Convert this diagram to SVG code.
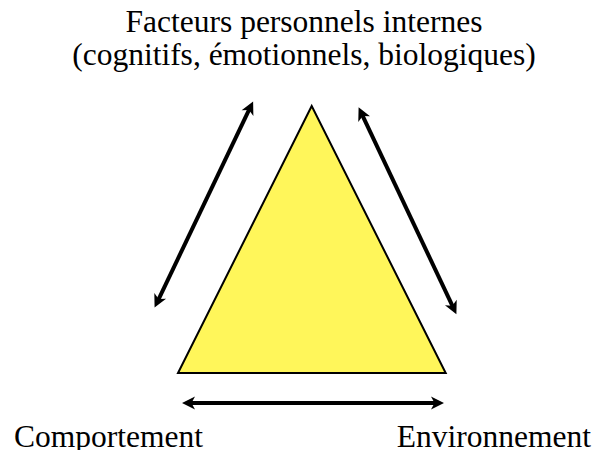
<svg xmlns="http://www.w3.org/2000/svg" width="597" height="450" viewBox="0 0 597 450">
<style>
.t{font-family:'Liberation Serif','Times New Roman',serif;font-size:31.5px;fill:#000}
.arr{stroke:#000;stroke-width:4;fill:none;marker-start:url(#ah);marker-end:url(#ah)}
</style>
<defs>
<marker id="ah" viewBox="-1 -8 15 16" markerWidth="15" markerHeight="16" refX="6" refY="0" orient="auto-start-reverse" markerUnits="userSpaceOnUse">
<path d="M0,-6.5 L13,0 L0,6.5 L3.5,0 z" fill="#000"/>
</marker>
</defs>
<rect width="597" height="450" fill="#fff"/>
<g id="triangle">
<polygon points="311.7,106 178,373 445.7,373" fill="#FFF65A" stroke="#000" stroke-width="2" stroke-linejoin="miter"/>
</g>
<g id="top-label">
<text class="t" x="304" y="32" text-anchor="middle">Facteurs personnels internes</text>
<text class="t" x="304" y="65" text-anchor="middle">(cognitifs, émotionnels, biologiques)</text>
</g>
<g id="comportement">
<text class="t" x="14" y="447">Comportement</text>
</g>
<g id="environnement">
<text class="t" x="591" y="447" text-anchor="end">Environnement</text>
</g>
<g id="connectors">
<line class="arr" x1="157.6" y1="301.3" x2="250.1" y2="107.7"/>
<line class="arr" x1="361.6" y1="113.7" x2="453.4" y2="307.9"/>
<line class="arr" x1="189" y1="403" x2="437" y2="403"/>
</g>
</svg>
